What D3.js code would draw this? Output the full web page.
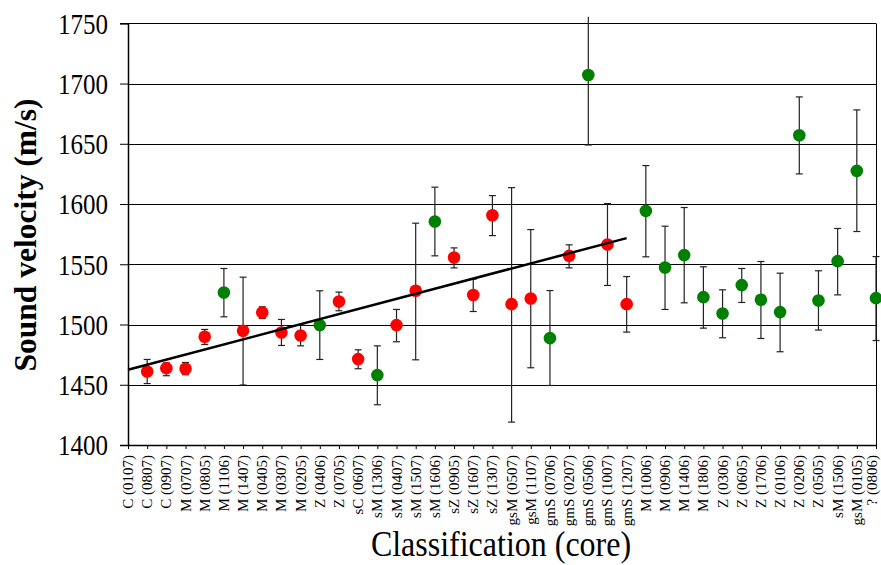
<!DOCTYPE html>
<html>
<head>
<meta charset="utf-8">
<script src="https://cdn.jsdelivr.net/npm/d3@7/dist/d3.min.js"></script>
<style>
  html, body { margin: 0; padding: 0; background: #fff; }
  svg { display: block; }
</style>
</head>
<body>
<svg id="chart" width="881" height="565"></svg>
<script>
// ---- data ----
const categories = [
  "C (0107)", "C (0807)", "C (0907)", "M (0707)", "M (0805)", "M (1106)", "M (1407)", "M (0405)",
  "M (0307)", "M (0205)", "Z (0406)", "Z (0705)", "sC (0607)", "sM (1306)", "sM (0407)", "sM (1507)",
  "sM (1606)", "sZ (0905)", "sZ (1607)", "sZ (1307)", "gsM (0507)", "gsM (1107)", "gmS (0706)", "gmS (0207)",
  "gmS (0506)", "gmS (1007)", "gmS (1207)", "M (1006)", "M (0906)", "M (1406)", "M (1806)", "Z (0306)",
  "Z (0605)", "Z (1706)", "Z (0106)", "Z (0206)", "Z (0505)", "sM (1506)", "gsM (0105)", "? (0806)"
];
const velocity = [
  null, 1461, 1463.8, 1463.3, 1489.8, 1526.6, 1494.8, 1510,
  1493.4, 1490.9, 1499.5, 1519.1, 1471.3, 1458, 1499.5, 1528,
  1585.5, 1555.6, 1524.5, 1590.7, 1516.9, 1521.6, 1488.7, 1557,
  1707.1, 1566.4, 1516.9, 1594.3, 1547.3, 1557.6, 1522.7, 1509.2,
  1532.7, 1520.5, 1510.3, 1657.1, 1519.9, 1552.6, 1627.5, 1521.9
];
const errLow = [
  null, 1451, 1457.5, 1458.3, 1483.4, 1506.4, 1449.8, 1505,
  1482.6, 1482.3, 1471, 1511.4, 1463.3, 1433.4, 1485.7, 1470.7,
  1557, 1547, 1510.8, 1573.8, 1419, 1464.1, 1449.4, 1547,
  1649, 1532.4, 1493.7, 1556.2, 1512.5, 1518, 1497, 1489,
  1518.3, 1488.4, 1477.4, 1625, 1495.4, 1524.6, 1577.2, 1486.7
];
const errHigh = [
  null, 1471, 1468, 1468.5, 1495.9, 1546.5, 1539.3, 1514.7,
  1504.2, 1499.5, 1528, 1526.9, 1479, 1482.3, 1512.5, 1584.1,
  1614, 1563.6, 1537.7, 1607, 1613.6, 1578.8, 1528.2, 1566.1,
  1755.5, 1600.4, 1539.8, 1631.9, 1581.6, 1597.1, 1547.9, 1528.8,
  1546.5, 1552.3, 1542.6, 1688.9, 1544.6, 1579.7, 1678.1, 1556.4
];
// group: "r" = red series, "g" = green series
const group = [
  null, "r", "r", "r", "r", "g", "r", "r",
  "r", "r", "g", "r", "r", "g", "r", "r",
  "g", "r", "r", "r", "r", "r", "g", "r",
  "g", "r", "r", "g", "g", "g", "g", "g",
  "g", "g", "g", "g", "g", "g", "g", "g"
];
const trendCats = ["C (0107)", "gmS (1207)"];
const trendVals = [1462.5, 1571.7];
const yTicks = [1400, 1450, 1500, 1550, 1600, 1650, 1700, 1750];

// ---- layout ----
const FONT = "'Liberation Serif', 'Times New Roman', Times, serif";
const svg = d3.select("#chart");
const pLeft = 128, pRight = 876, pTop = 23.3, pBottom = 445;
const colors = { r: "#FF0000", g: "#008000" };

const x = d3.scalePoint().domain(categories).range([pLeft, pRight]).padding(0);
const y = d3.scaleLinear().domain([1400, 1750]).range([pBottom, pTop]);

// gridlines
svg.append("g")
  .selectAll("line")
  .data(yTicks.filter(t => t > 1400))
  .join("line")
  .attr("x1", pLeft).attr("x2", pRight)
  .attr("y1", d => Math.round(y(d)) + 0.5).attr("y2", d => Math.round(y(d)) + 0.5)
  .attr("stroke", "#000").attr("stroke-width", 1);

// right border
svg.append("line")
  .attr("x1", pRight + 0.5).attr("x2", pRight + 0.5)
  .attr("y1", Math.round(pTop) + 0.5).attr("y2", pBottom)
  .attr("stroke", "#000").attr("stroke-width", 1);

// y axis
const yAxis = d3.axisLeft(y).tickValues(yTicks).tickSize(8).tickPadding(12).tickFormat(d3.format("d"));
const gy = svg.append("g").attr("transform", `translate(${pLeft},0)`).call(yAxis)
  .attr("font-family", FONT);
gy.select(".domain").attr("stroke", "#000").attr("stroke-width", 1.5);
gy.selectAll(".tick line").attr("stroke", "#000");
gy.selectAll(".tick text").attr("font-size", 25).attr("fill", "#000")
  .style("font-family", FONT)
  .attr("transform", "scale(1,1.18)")
  .attr("dy", "0.33em");

// x axis
const xAxis = d3.axisBottom(x).tickSize(4).tickSizeOuter(0);
const gx = svg.append("g").attr("transform", `translate(0,${pBottom})`).call(xAxis)
  .attr("font-family", FONT);
gx.select(".domain").attr("stroke", "#000").attr("stroke-width", 1.5);
gx.selectAll(".tick line").attr("stroke", "#000");
const lastCat = categories[categories.length - 1];
gx.selectAll(".tick text")
  .attr("font-size", 15).attr("fill", "#000")
  .style("font-family", FONT)
  .attr("transform", "rotate(-90)")
  .attr("text-anchor", "end")
  .attr("x", -10).attr("y", 0)
  .attr("dy", d => d === lastCat ? "0.05em" : "0.3em");

// error bars
const idx = d3.range(categories.length).filter(i => velocity[i] != null);
const eb = svg.append("g").attr("stroke", "#222").attr("stroke-width", 1.2);
idx.forEach(i => {
  const cx = x(categories[i]);
  eb.append("line").attr("x1", cx).attr("x2", cx)
    .attr("y1", y(errLow[i])).attr("y2", y(errHigh[i]));
  eb.append("line").attr("x1", cx - 3.5).attr("x2", cx + 3.5)
    .attr("y1", y(errLow[i])).attr("y2", y(errLow[i]));
  if (errHigh[i] <= 1750) {
    eb.append("line").attr("x1", cx - 3.5).attr("x2", cx + 3.5)
      .attr("y1", y(errHigh[i])).attr("y2", y(errHigh[i]));
  }
});

// points
svg.append("g").selectAll("circle")
  .data(idx)
  .join("circle")
  .attr("cx", i => x(categories[i]))
  .attr("cy", i => y(velocity[i]))
  .attr("r", 6.3)
  .attr("fill", i => colors[group[i]]);

// trend line
svg.append("line")
  .attr("x1", x(trendCats[0])).attr("y1", y(trendVals[0]))
  .attr("x2", x(trendCats[1])).attr("y2", y(trendVals[1]))
  .attr("stroke", "#000").attr("stroke-width", 2.5);

// titles
svg.append("text")
  .attr("transform", "translate(36,235) rotate(-90)")
  .attr("text-anchor", "middle")
  .style("font-family", FONT)
  .attr("font-size", 31.5).attr("font-weight", "bold")
  .text("Sound velocity (m/s)");

svg.append("text")
  .attr("transform", "translate(501,556) scale(1,1.15)")
  .attr("text-anchor", "middle")
  .style("font-family", FONT)
  .attr("font-size", 32)
  .text("Classification (core)");
</script>
</body>
</html>
